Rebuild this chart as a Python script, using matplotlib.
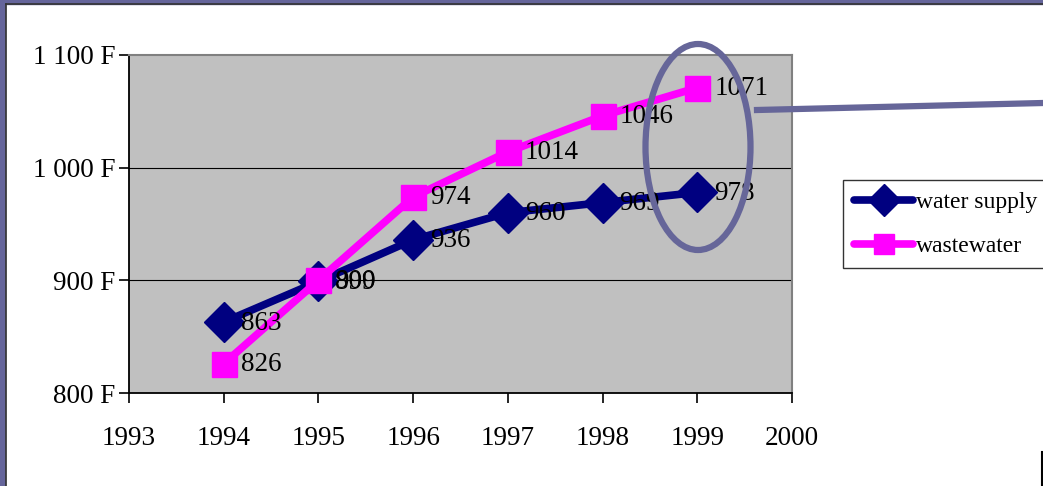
import matplotlib
matplotlib.use("Agg")
import matplotlib.pyplot as plt
from matplotlib.patches import Rectangle, Ellipse
from matplotlib.lines import Line2D

years = [1994, 1995, 1996, 1997, 1998, 1999]
water_supply = [863, 899, 936, 960, 969, 978]
wastewater = [826, 900, 974, 1014, 1046, 1071]
series_names = ["water supply", "wastewater"]
y_ticks = [800, 900, 1000, 1100]
y_tick_labels = ["800 F", "900 F", "1 000 F", "1 100 F"]
x_ticks = [1993, 1994, 1995, 1996, 1997, 1998, 1999, 2000]

plt.rcParams['font.family'] = ['Liberation Serif', 'DejaVu Serif']
FS = 19.5
W, H = 1043, 486
fig = plt.figure(figsize=(W / 100, H / 100), dpi=100)
fig.patch.set_facecolor('white')

# frame on the left and top
purple = '#65659b'
fig.patches.append(Rectangle((0, 0), 5 / W, 1, transform=fig.transFigure, color=purple, zorder=0))
fig.patches.append(Rectangle((0, 1 - 4 / H), 1, 4 / H, transform=fig.transFigure, color=purple, zorder=0))
fig.lines.append(Line2D([6 / W, 6 / W], [0, 1 - 4 / H], transform=fig.transFigure, color='#333333', lw=1.2))
fig.lines.append(Line2D([6 / W, 1], [1 - 4.5 / H, 1 - 4.5 / H], transform=fig.transFigure, color='#333333', lw=1.2))

ax = fig.add_axes([129 / W, 1 - 393 / H, (792 - 129) / W, (393 - 55) / H])
ax.set_facecolor('#c0c0c0')
ax.set_xlim(1993, 2000)
ax.set_ylim(800, 1100)
ax.set_yticks(y_ticks)
ax.set_yticklabels(y_tick_labels)
ax.set_xticks(x_ticks)
ax.set_xticklabels([str(x) for x in x_ticks])
ax.tick_params(axis='both', direction='out', length=7, width=1.2, labelsize=FS, colors='black')
ax.tick_params(axis='x', pad=17)
ax.tick_params(axis='y', pad=3)
for s in ['top', 'right']:
    ax.spines[s].set_color('#808080')
    ax.spines[s].set_linewidth(1.5)
for s in ['left', 'bottom']:
    ax.spines[s].set_color('black')
    ax.spines[s].set_linewidth(1.3)
for v in y_ticks[1:3]:
    ax.axhline(v, color='black', lw=0.8, zorder=1)

l1, = ax.plot(years, water_supply, color='#000080', lw=5.5, marker='D', ms=20,
              label=series_names[0], zorder=3, solid_capstyle='round')
l2, = ax.plot(years, wastewater, color='#ff00ff', lw=5.5, marker='s', ms=18,
              label=series_names[1], zorder=4, solid_capstyle='round')

for x, y in zip(years, water_supply):
    ax.annotate(str(y), (x, y), xytext=(17, -1), textcoords='offset pixels',
                ha='left', va='center', fontsize=FS, zorder=5)
for x, y in zip(years, wastewater):
    ax.annotate(str(y), (x, y), xytext=(17, -1), textcoords='offset pixels',
                ha='left', va='center', fontsize=FS, zorder=5)

LFS = 17
leg = fig.legend(handles=[l1, l2], loc='upper left', bbox_to_anchor=(843 / W, 1 - 180 / H),
                 fontsize=LFS, frameon=True, fancybox=False, handlelength=2.5,
                 handletextpad=0.1, labelspacing=0.95, borderpad=0.48, borderaxespad=0,
                 markerscale=0.8)
leg.get_frame().set_edgecolor('black')
leg.get_frame().set_linewidth(1.0)

# ellipse highlight and pointer line
fig.patches.append(Ellipse((698 / W, 1 - 147 / H), 105 / W, 206 / H, transform=fig.transFigure,
                           fill=False, edgecolor='#666699', lw=4.5, zorder=10))
fig.lines.append(Line2D([757 / W, 1], [1 - 110 / H, 1 - 103 / H], transform=fig.transFigure,
                        color='#666699', lw=4.5, zorder=10))
fig.lines.append(Line2D([1041.5 / W, 1041.5 / W], [0, 1 - 452 / H], transform=fig.transFigure,
                        color='black', lw=1.5))

fig.savefig('out.png', dpi=100)
